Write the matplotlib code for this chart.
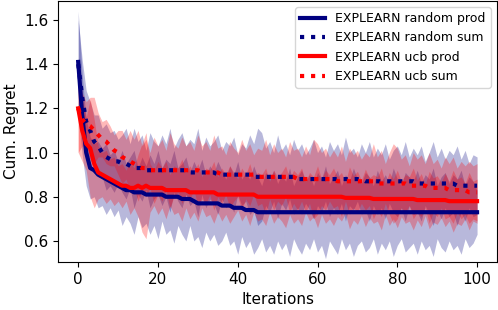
import matplotlib
matplotlib.use("Agg")
import matplotlib.pyplot as plt
import numpy as np

iterations = list(range(101))

random_prod = [
    1.41, 1.17, 1.00, 0.93, 0.92, 0.90, 0.89, 0.88, 0.87, 0.86,
    0.85, 0.84, 0.83, 0.83, 0.82, 0.82, 0.82, 0.81, 0.81, 0.81,
    0.81, 0.81, 0.80, 0.80, 0.80, 0.80, 0.79, 0.79, 0.79, 0.78,
    0.77, 0.77, 0.77, 0.77, 0.77, 0.77, 0.76, 0.76, 0.76, 0.75,
    0.75, 0.75, 0.74, 0.74, 0.74, 0.73, 0.73, 0.73, 0.73, 0.73,
    0.73, 0.73, 0.73, 0.73, 0.73, 0.73, 0.73, 0.73, 0.73, 0.73,
    0.73, 0.73, 0.73, 0.73, 0.73, 0.73, 0.73, 0.73, 0.73, 0.73,
    0.73, 0.73, 0.73, 0.73, 0.73, 0.73, 0.73, 0.73, 0.73, 0.73,
    0.73, 0.73, 0.73, 0.73, 0.73, 0.73, 0.73, 0.73, 0.73, 0.73,
    0.73, 0.73, 0.73, 0.73, 0.73, 0.73, 0.73, 0.73, 0.73, 0.73,
    0.73,
]
random_sum = [
    1.40, 1.25, 1.14, 1.10, 1.05, 1.03, 1.00, 0.98, 0.97, 0.96,
    0.96, 0.95, 0.95, 0.94, 0.93, 0.93, 0.93, 0.92, 0.92, 0.92,
    0.92, 0.92, 0.92, 0.92, 0.92, 0.92, 0.92, 0.92, 0.91, 0.91,
    0.91, 0.91, 0.91, 0.91, 0.91, 0.90, 0.90, 0.90, 0.90, 0.90,
    0.90, 0.90, 0.90, 0.90, 0.89, 0.89, 0.89, 0.89, 0.89, 0.89,
    0.89, 0.89, 0.89, 0.89, 0.89, 0.88, 0.88, 0.88, 0.88, 0.88,
    0.88, 0.88, 0.88, 0.88, 0.88, 0.88, 0.88, 0.88, 0.88, 0.88,
    0.88, 0.88, 0.87, 0.87, 0.87, 0.87, 0.87, 0.87, 0.87, 0.87,
    0.87, 0.87, 0.87, 0.87, 0.87, 0.86, 0.86, 0.86, 0.86, 0.86,
    0.86, 0.86, 0.86, 0.86, 0.86, 0.85, 0.85, 0.85, 0.85, 0.85,
    0.85,
]
ucb_prod = [
    1.20, 1.10, 1.04, 1.02, 0.95, 0.91, 0.90, 0.89, 0.88, 0.87,
    0.86, 0.85, 0.85, 0.84, 0.84, 0.85, 0.84, 0.85, 0.84, 0.84,
    0.84, 0.84, 0.83, 0.83, 0.83, 0.83, 0.83, 0.83, 0.82, 0.82,
    0.82, 0.82, 0.82, 0.82, 0.82, 0.81, 0.81, 0.81, 0.81, 0.81,
    0.81, 0.81, 0.81, 0.81, 0.81, 0.80, 0.80, 0.80, 0.80, 0.80,
    0.80, 0.80, 0.80, 0.80, 0.80, 0.80, 0.80, 0.80, 0.80, 0.80,
    0.80, 0.80, 0.80, 0.80, 0.80, 0.80, 0.80, 0.795, 0.795, 0.795,
    0.795, 0.795, 0.795, 0.795, 0.79, 0.79, 0.79, 0.79, 0.79, 0.79,
    0.79, 0.79, 0.79, 0.79, 0.79, 0.785, 0.785, 0.785, 0.785, 0.785,
    0.785, 0.785, 0.785, 0.78, 0.78, 0.78, 0.78, 0.78, 0.78, 0.78,
    0.78,
]
ucb_sum = [
    1.20, 1.15, 1.13, 1.12, 1.10, 1.08, 1.06, 1.05, 1.03, 1.01,
    1.00, 0.98, 0.97, 0.96, 0.95, 0.94, 0.93, 0.93, 0.92, 0.92,
    0.92, 0.92, 0.92, 0.92, 0.92, 0.92, 0.92, 0.92, 0.92, 0.92,
    0.92, 0.91, 0.91, 0.91, 0.91, 0.91, 0.90, 0.90, 0.90, 0.90,
    0.90, 0.90, 0.90, 0.90, 0.90, 0.89, 0.89, 0.89, 0.89, 0.89,
    0.89, 0.89, 0.89, 0.89, 0.89, 0.88, 0.88, 0.88, 0.88, 0.88,
    0.88, 0.88, 0.88, 0.88, 0.88, 0.87, 0.87, 0.87, 0.87, 0.87,
    0.87, 0.87, 0.87, 0.87, 0.87, 0.86, 0.86, 0.86, 0.86, 0.86,
    0.86, 0.86, 0.86, 0.85, 0.85, 0.85, 0.85, 0.85, 0.84, 0.84,
    0.84, 0.84, 0.84, 0.83, 0.83, 0.83, 0.83, 0.83, 0.82, 0.82,
    0.82,
]

# standard deviation across runs, drawn as mean +/- std
random_prod_std = [
    0.23, 0.18, 0.15, 0.14, 0.12, 0.15, 0.13, 0.16, 0.12, 0.15, 0.11,
    0.17, 0.12, 0.15, 0.19, 0.11, 0.16, 0.13, 0.18, 0.14, 0.20,
    0.12, 0.17, 0.15, 0.21, 0.13, 0.16, 0.19, 0.12, 0.18, 0.15,
    0.20, 0.13, 0.17, 0.14, 0.19, 0.16, 0.12, 0.18, 0.15, 0.21,
    0.13, 0.17, 0.14, 0.20, 0.16, 0.12, 0.18, 0.15, 0.19, 0.13,
    0.17, 0.14, 0.20, 0.12, 0.16, 0.19, 0.14, 0.17, 0.12, 0.18,
    0.15, 0.21, 0.13, 0.16, 0.19, 0.12, 0.17, 0.14, 0.20, 0.15,
    0.13, 0.18, 0.16, 0.12, 0.19, 0.14, 0.17, 0.13, 0.20, 0.15,
    0.12, 0.18, 0.16, 0.14, 0.19, 0.13, 0.17, 0.15, 0.20, 0.12,
    0.16, 0.18, 0.13, 0.17, 0.15, 0.19, 0.12, 0.16, 0.14, 0.10,
]
random_sum_std = [
    0.20, 0.17, 0.14, 0.13, 0.12, 0.14, 0.11, 0.15, 0.12, 0.14, 0.10,
    0.13, 0.16, 0.10, 0.18, 0.12, 0.15, 0.09, 0.17, 0.13, 0.11,
    0.16, 0.12, 0.19, 0.10, 0.14, 0.17, 0.11, 0.15, 0.13, 0.20,
    0.10, 0.16, 0.12, 0.14, 0.18, 0.11, 0.15, 0.13, 0.17, 0.09,
    0.14, 0.12, 0.18, 0.15, 0.22, 0.20, 0.13, 0.16, 0.11, 0.19,
    0.12, 0.15, 0.10, 0.17, 0.13, 0.16, 0.11, 0.14, 0.18, 0.12,
    0.15, 0.10, 0.17, 0.13, 0.16, 0.11, 0.19, 0.12, 0.14, 0.10,
    0.16, 0.13, 0.18, 0.11, 0.15, 0.12, 0.17, 0.10, 0.14, 0.16,
    0.12, 0.18, 0.11, 0.15, 0.13, 0.17, 0.10, 0.14, 0.19, 0.12,
    0.16, 0.11, 0.15, 0.13, 0.18, 0.12, 0.16, 0.10, 0.14, 0.13,
]
ucb_prod_std = [
    0.20, 0.14, 0.12, 0.22, 0.20, 0.12, 0.10, 0.12, 0.09, 0.11, 0.08,
    0.10, 0.07, 0.12, 0.09, 0.14, 0.20, 0.24, 0.11, 0.08, 0.12,
    0.09, 0.13, 0.07, 0.11, 0.10, 0.14, 0.08, 0.12, 0.09, 0.13,
    0.07, 0.11, 0.10, 0.14, 0.08, 0.12, 0.09, 0.13, 0.10, 0.07,
    0.12, 0.09, 0.14, 0.08, 0.11, 0.10, 0.13, 0.07, 0.12, 0.09,
    0.11, 0.14, 0.08, 0.12, 0.10, 0.13, 0.07, 0.11, 0.09, 0.14,
    0.08, 0.12, 0.10, 0.13, 0.09, 0.11, 0.07, 0.14, 0.10, 0.12,
    0.08, 0.13, 0.09, 0.11, 0.10, 0.14, 0.07, 0.12, 0.09, 0.13,
    0.08, 0.11, 0.10, 0.14, 0.09, 0.12, 0.07, 0.13, 0.10, 0.11,
    0.08, 0.12, 0.09, 0.14, 0.10, 0.11, 0.08, 0.13, 0.09, 0.10,
]
ucb_sum_std = [
    0.20, 0.12, 0.10, 0.13, 0.15, 0.10, 0.08, 0.10, 0.09, 0.07, 0.10,
    0.12, 0.09, 0.14, 0.11, 0.16, 0.10, 0.13, 0.08, 0.15, 0.11,
    0.14, 0.09, 0.17, 0.12, 0.10, 0.15, 0.11, 0.13, 0.09, 0.16,
    0.12, 0.14, 0.10, 0.17, 0.11, 0.13, 0.09, 0.15, 0.12, 0.10,
    0.16, 0.11, 0.14, 0.09, 0.13, 0.12, 0.17, 0.10, 0.15, 0.11,
    0.13, 0.09, 0.16, 0.12, 0.14, 0.10, 0.15, 0.11, 0.18, 0.16,
    0.12, 0.14, 0.10, 0.13, 0.11, 0.16, 0.09, 0.15, 0.12, 0.14,
    0.10, 0.13, 0.11, 0.17, 0.12, 0.15, 0.09, 0.14, 0.18, 0.16,
    0.11, 0.13, 0.09, 0.15, 0.12, 0.14, 0.10, 0.16, 0.11, 0.13,
    0.09, 0.14, 0.12, 0.15, 0.10, 0.13, 0.11, 0.14, 0.12, 0.13,
]

series = [
    ("EXPLEARN random prod", random_prod, random_prod_std, "navy", "-"),
    ("EXPLEARN random sum", random_sum, random_sum_std, "navy", ":"),
    ("EXPLEARN ucb prod", ucb_prod, ucb_prod_std, "red", "-"),
    ("EXPLEARN ucb sum", ucb_sum, ucb_sum_std, "red", ":"),
]

fig = plt.figure(figsize=(4.98, 3.10), dpi=100)
ax = fig.add_axes([0.117, 0.155, 0.881, 0.842])

for label, mean, std, color, ls in series:
    mean = np.array(mean)
    std = np.array(std)
    ax.fill_between(iterations, mean - std, mean + std, color=color, alpha=0.28, linewidth=0)

for label, mean, std, color, ls in series:
    ax.plot(iterations, mean, color=color, lw=3, ls=ls, label=label)

ax.set_xlim(-5, 105)
ax.set_ylim(0.505, 1.686)
ax.set_xticks([0, 20, 40, 60, 80, 100])
ax.set_yticks([0.6, 0.8, 1.0, 1.2, 1.4, 1.6])
ax.tick_params(labelsize=11)
ax.set_xlabel("Iterations", fontsize=11)
ax.set_ylabel("Cum. Regret", fontsize=11)
ax.legend(loc="upper right", fontsize=9)

fig.savefig("out.png", dpi=100)
